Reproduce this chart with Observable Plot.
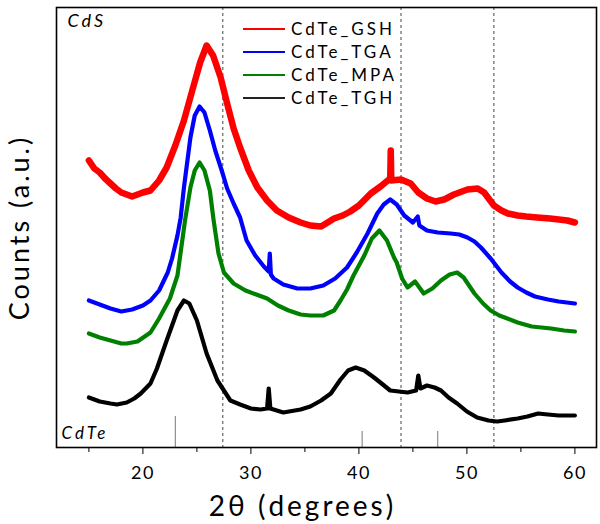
<!DOCTYPE html>
<html>
<head>
<meta charset="utf-8">
<script src="https://cdn.jsdelivr.net/npm/d3@7"></script>
<script src="https://cdn.jsdelivr.net/npm/@observablehq/plot@0.6"></script>
<style>
  html, body { margin: 0; padding: 0; background: #fff; }
  #wrap { position: relative; width: 600px; height: 524px; }
  #legend { position: absolute; left: 0; top: 0; pointer-events: none; }
</style>
</head>
<body>
<div id="wrap"></div>
<script>
// ---- data (2θ in degrees, counts in arbitrary units) ----
const seriesNames = ["CdTe_GSH", "CdTe_TGA", "CdTe_MPA", "CdTe_TGH"];
const seriesColors = ["#ff0000", "#0000ff", "#008000", "#000000"];

const gshX = [15,15.5,16,16.5,17,17.5,18,18.5,19,19.5,20,20.7,21.5,22.2,23,23.8,24.7,25.3,25.9,26.5,27.2,27.8,28.4,29,29.8,30.6,31.5,32.4,33.5,34.6,35.5,36.5,37.7,38.5,39.2,40,41.1,42,42.9,42.95,43.0,43.9,44.8,45.5,46.3,47.1,47.9,48.8,50.05,51,51.6,52.5,53.2,53.8,54.7,55.5,56.5,57.7,58.5,59.3,60];
const gshY = [287,279,275,269,264,259,255,253,251,253,255,257,267,280,302,327,362,385,402,392,370,344,319,300,277,260,247,237,230,225,222,221,229,232,236,242,254,261,269,297,267,268,264,255,249,246,248,253,258,259,255,242,237,234,232,231,230,229,228,227,225];

const tgaX = [15,15.5,16,16.5,17,18,18.5,19,20,20.7,21.5,22.3,22.7,23.2,23.5,23.8,24.4,24.8,25.25,25.7,26.2,26.7,27.3,27.8,28.4,29,29.6,30.4,31.2,31.65,31.75,31.85,32.1,33,34.3,35.5,36.7,37.8,38.9,39.8,40.8,41.7,42.3,42.9,43.5,44.2,45,45.45,45.6,46.3,47.3,48.5,49.3,50.05,50.7,51.3,52.2,53.2,54,54.7,55.5,56.3,57.5,58.5,60];
const tgaY = [147,145,143,141,139,136,137,138,142,147,157,175,189,212,230,260,310,332,341,335,317,297,277,259,244,230,207,192,181,176,194,173,169,163,159,159,162,169,180,195,214,234,243,248,243,232,225,231,222,217,215,214,213,210,206,200,189,175,166,160,155,151,148,146,144];

const mpaX = [15,15.5,16,17,18,18.5,19.5,20.7,21.5,22.5,23.2,23.9,24.4,24.8,25.25,25.7,26.2,26.55,27,27.5,28.4,29.5,30.5,31.5,32.5,33.5,34.6,35.5,36.7,37.7,38.3,38.9,39.5,40,40.5,41.2,41.9,42.6,43.25,43.5,44,44.5,45.2,46,46.8,47.6,48.4,49.1,49.7,50.7,51.5,52.2,53,54.7,56,57.8,59,60];
const mpaY = [114,112,110,107,104,104,106,115,129,149,172,227,260,277,285,277,257,227,194,175,164,157,153,149,142,137,133,132,132,137,147,158,172,182,192,209,217,207,190,185,169,160,166,154,159,167,173,175,170,154,144,137,132,125,121,119,117,116];

const tghX = [15,15.5,16,17,17.6,18.5,19.2,19.8,20.7,21.3,22.2,23.2,23.8,24.3,25,25.9,26.9,28.1,29,30,30.9,31.5,31.65,31.8,33,34.6,35.5,36.5,37.4,38.3,39,39.7,40.5,41.4,42.1,42.9,43.7,44.5,45.3,45.5,45.7,46.3,47,47.6,48.3,49.1,50,50.95,52,52.8,53.5,54.7,55.6,56.6,57.5,58.5,60];
const tghY = [50,48,46,44,43,45,49,54,64,79,107,137,147,144,127,94,67,47,43,39,38,39,59,39,35,38,41,47,54,68,77,80,77,70,64,57,56,55,57,72,59,62,60,57,50,44,36,30,27,26,27,29,31,34,33,32,32];

// reference patterns
const cdsRefs = [27.4, 43.9, 52.5];          // CdS (dashed lines)
const cdteRefs = [23.0, 40.3, 47.3];         // CdTe reference sticks
const cdteHeights = [31, 16, 16];

const majorTicks = [20, 30, 40, 50, 60];
const minorTicks = [15, 25, 35, 45, 55];
const xLabel = "2θ (degrees)";
const yLabel = "Counts (a.u.)";

// ---- build ----
const xs = [gshX, tgaX, mpaX, tghX];
const ys = [gshY, tgaY, mpaY, tghY];
const widths = [6.5, 4.2, 4.2, 4.2];
const lineMarks = xs.map((X, k) =>
  Plot.line(X.map((x, i) => ({x, y: ys[k][i]})), {
    x: "x", y: "y", stroke: seriesColors[k], strokeWidth: widths[k],
    strokeLinejoin: "round"
  })
);

const chart = Plot.plot({
  width: 600, height: 524,
  marginLeft: 56, marginRight: 4, marginTop: 7, marginBottom: 77,
  x: {domain: [12, 62], axis: null},
  y: {domain: [0, 440], axis: null},
  style: {fontFamily: "Lato, sans-serif", color: "#000", background: "#fff"},
  marks: [
    Plot.ruleX(cdsRefs, {stroke: "#444", strokeDasharray: "3,3", strokeWidth: 1}),
    Plot.ruleX(cdteRefs, {x: d => d, y1: 0, y2: (d, i) => cdteHeights[i], stroke: "#777", strokeWidth: 1}),
    ...lineMarks,
    Plot.frame({stroke: "#000", strokeWidth: 1.6}),
    Plot.axisX({ticks: majorTicks, tickSize: 7, tickPadding: 12, fontSize: 18, label: null, tickFormat: d => String(d)}),
    Plot.axisX({ticks: minorTicks, tickSize: 5, tickFormat: () => "", label: null}),
    Plot.text([xLabel], {text: d => d, frameAnchor: "bottom", dy: 60, dx: -24, fontSize: 28, lineAnchor: "middle", textAnchor: "middle"}),
    Plot.text([yLabel], {text: d => d, frameAnchor: "left", dx: -36, rotate: -90, fontSize: 27, lineAnchor: "middle", textAnchor: "middle"}),
    Plot.text(["CdS"], {text: d => d, frameAnchor: "top-left", dx: 11, dy: 7, fontSize: 18, fontStyle: "italic", lineAnchor: "top", textAnchor: "start"}),
    Plot.text(["CdTe"], {text: d => d, frameAnchor: "bottom-left", dx: 5, dy: -9, fontSize: 17, fontStyle: "italic", lineAnchor: "bottom", textAnchor: "start"})
  ]
});

// letter spacing to mimic the original typesetting
const svg = d3.select(chart);
svg.selectAll("text").attr("letter-spacing", "3px");
svg.selectAll("g[aria-label='x-axis tick label'] text").attr("letter-spacing", "1.5px");

const wrap = document.getElementById("wrap");
wrap.appendChild(chart);

// legend overlay
const leg = d3.select(wrap).append("svg").attr("id", "legend").attr("width", 600).attr("height", 524);
const rowY = [29, 52, 75, 98];
seriesNames.forEach((name, i) => {
  leg.append("line").attr("x1", 243).attr("x2", 285).attr("y1", rowY[i]).attr("y2", rowY[i])
    .attr("stroke", i === 3 ? "#222" : seriesColors[i]).attr("stroke-width", 1.8);
  leg.append("text").attr("x", 291).attr("y", rowY[i] + 6)
    .attr("font-family", "Lato, sans-serif").attr("font-size", 17)
    .attr("letter-spacing", "3px").attr("fill", "#000").text(name);
});
</script>
</body>
</html>
